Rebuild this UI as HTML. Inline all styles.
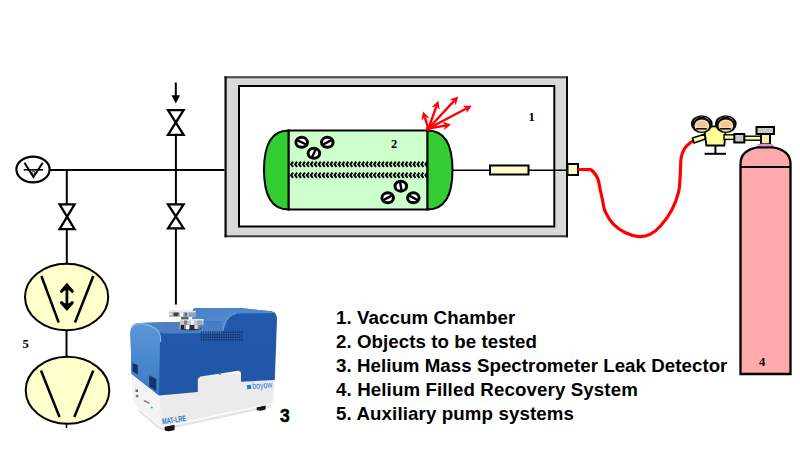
<!DOCTYPE html>
<html><head><meta charset="utf-8">
<style>
html,body{margin:0;padding:0;background:#fff;width:800px;height:462px;overflow:hidden}
svg{display:block}
.lbl{font-family:"Liberation Sans",sans-serif;font-weight:bold;font-size:18.7px;fill:#000}
.num{font-family:"Liberation Serif",serif;font-weight:bold;font-size:12.5px;fill:#000}
</style></head><body>
<svg width="800" height="462" viewBox="0 0 800 462">
<defs>
  <marker id="ah" markerWidth="6" markerHeight="6" refX="5" refY="3" orient="auto" markerUnits="userSpaceOnUse">
    <path d="M0,0 L6,3 L0,6 Z" fill="#f00"/>
  </marker>
</defs>
<!-- main horizontal line -->
<line x1="50" y1="170" x2="225" y2="170" stroke="#000" stroke-width="2"/>
<!-- gauge -->
<ellipse cx="33" cy="169.5" rx="16.6" ry="12.8" fill="#fff" stroke="#000" stroke-width="2.2"/>
<path d="M24.5,162.8 L33.4,177 L42.7,162.8" fill="none" stroke="#000" stroke-width="2"/>
<line x1="23.8" y1="169.8" x2="42.9" y2="169.8" stroke="#000" stroke-width="1.6"/>
<circle cx="33.4" cy="172.6" r="1.5" fill="#fff" stroke="#000" stroke-width="0.9"/>

<!-- left branch -->
<line x1="66.8" y1="170" x2="66.8" y2="264" stroke="#000" stroke-width="2"/>
<path d="M59.6,204.4 L74.6,204.4 L59.6,229.2 L74.6,229.2 Z" fill="#fff" stroke="#000" stroke-width="2.3" stroke-linejoin="miter"/>
<!-- pump 1 -->
<ellipse cx="66.6" cy="297" rx="41.6" ry="33.3" fill="#ffffcc" stroke="#000" stroke-width="2"/>
<line x1="41.4" y1="276" x2="58.7" y2="322.5" stroke="#000" stroke-width="2.5"/>
<line x1="93.3" y1="276" x2="75" y2="322.5" stroke="#000" stroke-width="2.5"/>
<line x1="66.9" y1="286" x2="66.9" y2="308" stroke="#000" stroke-width="2.8"/>
<path d="M61.6,291.2 L66.9,285.2 L72.2,291.2 M61.6,302.6 L66.9,308.6 L72.2,302.6" fill="none" stroke="#000" stroke-width="3.2" stroke-linecap="round" stroke-linejoin="miter"/>
<path d="M61.6,291.2 L66.9,285.2 L72.2,291.2 L66.9,290 Z M61.6,302.6 L66.9,308.6 L72.2,302.6 L66.9,303.8 Z" fill="#000"/>
<line x1="66.5" y1="330" x2="66.5" y2="357" stroke="#000" stroke-width="2"/>
<!-- pump 2 -->
<ellipse cx="67.5" cy="390.3" rx="41.8" ry="33.5" fill="#ffffcc" stroke="#000" stroke-width="2"/>
<line x1="41" y1="370.5" x2="59.5" y2="417" stroke="#000" stroke-width="2.5"/>
<line x1="93.3" y1="370.5" x2="74.3" y2="417" stroke="#000" stroke-width="2.5"/>
<line x1="66.5" y1="423" x2="66.5" y2="428" stroke="#000" stroke-width="1.5"/>
<text class="num" x="22.5" y="347.5">5</text>

<!-- middle branch -->
<line x1="175.9" y1="136" x2="175.9" y2="304.6" stroke="#000" stroke-width="2"/>
<path d="M168,110.1 L183.6,110.1 L168,134.9 L183.6,134.9 Z" fill="#fff" stroke="#000" stroke-width="2.3"/>
<path d="M168,204.4 L183.6,204.4 L168,228.3 L183.6,228.3 Z" fill="#fff" stroke="#000" stroke-width="2.3"/>
<line x1="175.8" y1="82.5" x2="175.8" y2="97" stroke="#000" stroke-width="2"/>
<path d="M171.5,95.3 L180.1,95.3 L175.8,103.6 Z" fill="#000"/>

<!-- chamber -->
<rect x="224.5" y="76.5" width="343.5" height="160.7" fill="#d9d9d9"/>
<line x1="224.5" y1="77.2" x2="568" y2="77.2" stroke="#454545" stroke-width="2"/>
<line x1="224.5" y1="236.2" x2="568" y2="236.2" stroke="#3a3a3a" stroke-width="2"/>
<line x1="225.6" y1="76.5" x2="225.6" y2="237.2" stroke="#0a0a0a" stroke-width="2.2"/>
<line x1="567" y1="76.5" x2="567" y2="237.2" stroke="#0a0a0a" stroke-width="2"/>
<rect x="239" y="86" width="315.3" height="140.5" fill="#fff" stroke="#000" stroke-width="2"/>
<text class="num" x="528.5" y="121">1</text>

<!-- tank -->
<rect x="288.5" y="130.5" width="139" height="79" fill="#ccffcc" stroke="#000" stroke-width="2"/>
<path d="M288.5,130.5 C272.6,130.5 264,144 264,170 C264,196 272.6,209.5 288.5,209.5 Z" fill="#33cc33" stroke="#000" stroke-width="2"/>
<path d="M427.5,130.5 C443.8,130.5 452.5,144 452.5,170 C452.5,196 443.8,209.5 427.5,209.5 Z" fill="#33cc33" stroke="#000" stroke-width="2"/>
<text class="num" x="391" y="148">2</text>
<path d="M293.1,161.7 L291.1,164.3 L293.1,166.9 M297.1,161.7 L295.1,164.3 L297.1,166.9 M301.0,161.7 L299.0,164.3 L301.0,166.9 M304.9,161.7 L302.9,164.3 L304.9,166.9 M308.9,161.7 L306.9,164.3 L308.9,166.9 M312.8,161.7 L310.8,164.3 L312.8,166.9 M316.8,161.7 L314.8,164.3 L316.8,166.9 M320.7,161.7 L318.7,164.3 L320.7,166.9 M324.7,161.7 L322.7,164.3 L324.7,166.9 M328.6,161.7 L326.6,164.3 L328.6,166.9 M332.6,161.7 L330.6,164.3 L332.6,166.9 M336.5,161.7 L334.5,164.3 L336.5,166.9 M340.5,161.7 L338.5,164.3 L340.5,166.9 M344.4,161.7 L342.4,164.3 L344.4,166.9 M348.4,161.7 L346.4,164.3 L348.4,166.9 M352.3,161.7 L350.3,164.3 L352.3,166.9 M356.3,161.7 L354.3,164.3 L356.3,166.9 M360.2,161.7 L358.2,164.3 L360.2,166.9 M364.2,161.7 L362.2,164.3 L364.2,166.9 M368.1,161.7 L366.1,164.3 L368.1,166.9 M372.1,161.7 L370.1,164.3 L372.1,166.9 M376.0,161.7 L374.0,164.3 L376.0,166.9 M380.0,161.7 L378.0,164.3 L380.0,166.9 M383.9,161.7 L381.9,164.3 L383.9,166.9 M387.9,161.7 L385.9,164.3 L387.9,166.9 M391.8,161.7 L389.8,164.3 L391.8,166.9 M395.8,161.7 L393.8,164.3 L395.8,166.9 M399.7,161.7 L397.7,164.3 L399.7,166.9 M403.7,161.7 L401.7,164.3 L403.7,166.9 M407.6,161.7 L405.6,164.3 L407.6,166.9 M411.6,161.7 L409.6,164.3 L411.6,166.9 M415.5,161.7 L413.5,164.3 L415.5,166.9 M419.5,161.7 L417.5,164.3 L419.5,166.9 M423.4,161.7 L421.4,164.3 L423.4,166.9 M427.4,161.7 L425.4,164.3 L427.4,166.9 M293.1,172.6 L291.1,175.2 L293.1,177.8 M297.1,172.6 L295.1,175.2 L297.1,177.8 M301.0,172.6 L299.0,175.2 L301.0,177.8 M304.9,172.6 L302.9,175.2 L304.9,177.8 M308.9,172.6 L306.9,175.2 L308.9,177.8 M312.8,172.6 L310.8,175.2 L312.8,177.8 M316.8,172.6 L314.8,175.2 L316.8,177.8 M320.7,172.6 L318.7,175.2 L320.7,177.8 M324.7,172.6 L322.7,175.2 L324.7,177.8 M328.6,172.6 L326.6,175.2 L328.6,177.8 M332.6,172.6 L330.6,175.2 L332.6,177.8 M336.5,172.6 L334.5,175.2 L336.5,177.8 M340.5,172.6 L338.5,175.2 L340.5,177.8 M344.4,172.6 L342.4,175.2 L344.4,177.8 M348.4,172.6 L346.4,175.2 L348.4,177.8 M352.3,172.6 L350.3,175.2 L352.3,177.8 M356.3,172.6 L354.3,175.2 L356.3,177.8 M360.2,172.6 L358.2,175.2 L360.2,177.8 M364.2,172.6 L362.2,175.2 L364.2,177.8 M368.1,172.6 L366.1,175.2 L368.1,177.8 M372.1,172.6 L370.1,175.2 L372.1,177.8 M376.0,172.6 L374.0,175.2 L376.0,177.8 M380.0,172.6 L378.0,175.2 L380.0,177.8 M383.9,172.6 L381.9,175.2 L383.9,177.8 M387.9,172.6 L385.9,175.2 L387.9,177.8 M391.8,172.6 L389.8,175.2 L391.8,177.8 M395.8,172.6 L393.8,175.2 L395.8,177.8 M399.7,172.6 L397.7,175.2 L399.7,177.8 M403.7,172.6 L401.7,175.2 L403.7,177.8 M407.6,172.6 L405.6,175.2 L407.6,177.8 M411.6,172.6 L409.6,175.2 L411.6,177.8 M415.5,172.6 L413.5,175.2 L415.5,177.8 M419.5,172.6 L417.5,175.2 L419.5,177.8 M423.4,172.6 L421.4,175.2 L423.4,177.8 M427.4,172.6 L425.4,175.2 L427.4,177.8" fill="none" stroke="#000" stroke-width="2.0" stroke-linejoin="miter"/>
<ellipse cx="301.7" cy="142.3" rx="5.8" ry="5" fill="#fff" stroke="#000" stroke-width="3"/><line x1="297.0" y1="140.1" x2="306.4" y2="144.5" stroke="#000" stroke-width="2.4"/><ellipse cx="327.3" cy="142.3" rx="5.8" ry="5" fill="#fff" stroke="#000" stroke-width="3"/><line x1="322.7" y1="144.7" x2="331.9" y2="139.9" stroke="#000" stroke-width="2.4"/><ellipse cx="313.9" cy="153.3" rx="5.8" ry="5" fill="#fff" stroke="#000" stroke-width="3"/><line x1="311.7" y1="158.0" x2="316.1" y2="148.6" stroke="#000" stroke-width="2.4"/><ellipse cx="400.8" cy="186.2" rx="5.8" ry="5" fill="#fff" stroke="#000" stroke-width="3"/><line x1="399.9" y1="181.1" x2="401.7" y2="191.3" stroke="#000" stroke-width="2.4"/><ellipse cx="387.7" cy="197.8" rx="5.8" ry="5" fill="#fff" stroke="#000" stroke-width="3"/><line x1="383.1" y1="200.2" x2="392.3" y2="195.4" stroke="#000" stroke-width="2.4"/><ellipse cx="413.3" cy="197.8" rx="5.8" ry="5" fill="#fff" stroke="#000" stroke-width="3"/><line x1="408.7" y1="195.4" x2="417.9" y2="200.2" stroke="#000" stroke-width="2.4"/>

<!-- red arrows -->
<line x1="428.4" y1="128.5" x2="424.8" y2="117.3" stroke="#f00" stroke-width="2.4"/><path d="M423.0,111.6 L429.4,117.9 L424.8,117.3 L421.4,120.5 Z" fill="#f00"/><line x1="428.4" y1="128.5" x2="436.4" y2="106.4" stroke="#f00" stroke-width="2.4"/><path d="M438.4,100.8 L439.6,109.8 L436.4,106.4 L431.7,106.9 Z" fill="#f00"/><line x1="428.4" y1="128.5" x2="454.1" y2="100.9" stroke="#f00" stroke-width="2.4"/><path d="M458.2,96.5 L455.8,105.2 L454.1,100.9 L449.7,99.5 Z" fill="#f00"/><line x1="428.4" y1="128.5" x2="466.4" y2="108.5" stroke="#f00" stroke-width="2.4"/><path d="M471.7,105.7 L466.6,113.1 L466.4,108.5 L462.7,105.7 Z" fill="#f00"/><line x1="428.4" y1="128.5" x2="445.2" y2="125.6" stroke="#f00" stroke-width="2.4"/><path d="M451.1,124.6 L443.9,130.1 L445.2,125.6 L442.5,121.8 Z" fill="#f00"/><circle cx="428.4" cy="128.5" r="2.5" fill="#f00"/>
<!-- rod & connector -->
<line x1="452" y1="170.2" x2="568" y2="170.2" stroke="#000" stroke-width="1.6"/>
<rect x="490" y="165.5" width="38.5" height="9" fill="#ffffcc" stroke="#000" stroke-width="2"/>
<rect x="567.5" y="164" width="10.5" height="11" fill="#ffffcc" stroke="#000" stroke-width="2"/>

<!-- red tube -->
<path d="M578.0,169.5 L590.8,169.6 C593.0,171.0 595.9,174.6 597.5,178.0 C599.1,181.4 599.5,186.3 600.3,190.0 C601.1,193.7 601.7,196.4 602.5,200.0 C603.3,203.6 603.3,207.6 605.2,211.7 C607.1,215.8 610.4,221.2 613.8,224.7 C617.2,228.2 621.3,230.7 625.5,232.7 C629.7,234.7 634.7,236.3 638.8,236.6 C642.9,236.9 646.4,236.2 650.0,234.4 C653.6,232.6 656.9,230.1 660.5,226.0 C664.1,221.9 668.8,215.7 671.8,210.0 C674.8,204.3 677.2,197.6 678.6,191.8 C680.0,186.0 679.8,180.7 680.2,175.0 C680.6,169.3 680.5,162.0 681.2,157.7 C681.9,153.4 683.0,151.3 684.3,149.0 C685.6,146.7 687.4,145.2 688.9,143.8 C690.4,142.4 692.6,141.1 693.4,140.6" fill="none" stroke="#f00" stroke-width="3.2" stroke-linejoin="round"/>

<!-- regulator -->
<path d="M692.5,138 L705,134 L705.5,139 L694,143 Z" fill="#ffff99" stroke="#000" stroke-width="1.7" stroke-linejoin="round"/>
<path d="M704,126.4 L726,126.4 L724.3,145.5 L706.4,145.5 Z" fill="#ffff99" stroke="#000" stroke-width="1.8"/>
<line x1="715.4" y1="145.5" x2="715.4" y2="153.8" stroke="#000" stroke-width="2"/>
<line x1="704.6" y1="153.8" x2="726" y2="153.8" stroke="#000" stroke-width="2"/>
<rect x="724" y="134.8" width="12" height="4.6" fill="#ffff99" stroke="#000" stroke-width="1.4"/>
<rect x="743" y="136.2" width="19" height="4" fill="#ffff99" stroke="#000" stroke-width="1.4"/>
<rect x="734.3" y="134" width="10" height="8.5" fill="#c8c8c8" stroke="#000" stroke-width="2"/>
<g>
<ellipse cx="701.8" cy="124.1" rx="10.9" ry="8.9" fill="#0a0a0a"/>
<ellipse cx="701.9" cy="125.6" rx="7.4" ry="6.2" fill="#f6deb0"/>
<ellipse cx="701.9" cy="124.2" rx="5" ry="3.2" fill="#f2c496"/>
<path d="M694.3,121 Q695.8,118 698.3,117.3 M705.3,117.3 Q707.8,118 709.3,121" fill="none" stroke="#8a6a4a" stroke-width="0.9"/>
<circle cx="701.8" cy="116.3" r="0.8" fill="#8a6a4a"/>
<line x1="696.0999999999999" y1="128.8" x2="706.8" y2="128.8" stroke="#111" stroke-width="1.6"/>
</g>
<g>
<ellipse cx="725.8" cy="124.1" rx="10.9" ry="8.9" fill="#0a0a0a"/>
<ellipse cx="725.9" cy="125.6" rx="7.4" ry="6.2" fill="#f6deb0"/>
<ellipse cx="725.9" cy="124.2" rx="5" ry="3.2" fill="#f2c496"/>
<path d="M718.3,121 Q719.8,118 722.3,117.3 M729.3,117.3 Q731.8,118 733.3,121" fill="none" stroke="#8a6a4a" stroke-width="0.9"/>
<circle cx="725.8" cy="116.3" r="0.8" fill="#8a6a4a"/>
<line x1="720.0999999999999" y1="128.8" x2="730.8" y2="128.8" stroke="#111" stroke-width="1.6"/>
</g>
<!-- cylinder valve -->
<rect x="761" y="133.5" width="9" height="10.5" fill="#f0f0a0" stroke="#000" stroke-width="2"/>
<rect x="756.5" y="127" width="17.5" height="7" fill="#c8c8c8" stroke="#000" stroke-width="2"/>
<path d="M757.5,145.6 Q765,143.6 773,145.6" fill="none" stroke="#d98ad0" stroke-width="2.2"/>
<!-- cylinder -->
<path d="M740.5,374 L740.5,164 C740.5,153 748,149 757.5,147.4 L773,147.4 C782.5,149 790.5,153 790.5,164 L790.5,374 Z" fill="#ffaaaa" stroke="#000" stroke-width="2.3"/>
<line x1="740.5" y1="166.9" x2="790.5" y2="166.9" stroke="#000" stroke-width="2"/>
<text class="num" x="759" y="365.5">4</text>

<!-- machine -->
<defs>
<linearGradient id="gside" x1="0" y1="0" x2="0" y2="1"><stop offset="0" stop-color="#5a98d8"/><stop offset="1" stop-color="#3a78c4"/></linearGradient>
<linearGradient id="gtop" x1="0" y1="0" x2="1" y2="0"><stop offset="0" stop-color="#4f80c4"/><stop offset="1" stop-color="#4a7cc2"/></linearGradient>
<linearGradient id="graise" x1="0" y1="0" x2="1" y2="1"><stop offset="0" stop-color="#4a80c8"/><stop offset="1" stop-color="#5b92d6"/></linearGradient>
<linearGradient id="gfront" x1="0" y1="0" x2="0" y2="1"><stop offset="0" stop-color="#2259ab"/><stop offset="1" stop-color="#1f56a8"/></linearGradient>
</defs>
<g>
<path d="M139,410 L158,427 Q161,429.5 166,428.5 L271,406" fill="none" stroke="#d8d8d8" stroke-width="2.5" opacity="0.7"/>
<path d="M164.3,422 L174.7,421 L174.5,430 Q169.5,432 164.8,430.5 Z" fill="#151515"/>
<path d="M256.2,402 L266,401 L265.5,409.5 Q261,411.5 256.8,410 Z" fill="#151515"/>
<path d="M131.5,368 L133.8,402 Q135,405 139,408.5 L158,424.5 Q161,427 166,426 L270,404 Q272.5,403.5 272.8,401 L274.8,376 Z" fill="#ebebeb"/>
<path d="M131.5,368 L133.8,402 Q135,405 139,408.5 L158,424.5 Q160,426 161,426 L160,392 Z" fill="#f3f3f3"/>
<path d="M139,408.5 L158,424.5 Q161,427 166,426 L270,404" fill="none" stroke="#fafafa" stroke-width="1.2"/>
<path d="M130.5,333 Q130.5,323.2 139,323 L192.5,321.5 L192.5,311 Q193,308 197,308 L240,308 L271,311.2 Q277,312.5 277,319 L274.8,380 L241,381.8 L241,373 Q241,370.6 238.5,370.8 L200.5,376.4 Q197.8,377 197.8,380 L197.8,392 L159,395.5 L131.5,373.8 Z" fill="url(#gfront)"/>
<path d="M130.5,333 Q130.5,323.2 139,323 L150,323.3 Q160,330 160,340 L159,395.5 L131.5,373.8 Z" fill="url(#gside)"/>
<path d="M139,323 L192.5,321.5 L223,321.5 L222,333 L167,333.4 Q160,333.5 156,329.5 Q150,324.5 139,323 Z" fill="url(#gtop)"/>
<path d="M131.5,328 Q134,323.5 141,323.3 Q152,324.5 158,331 Q161,335 160.5,342" fill="none" stroke="#86b8e6" stroke-width="1.3"/>
<path d="M197,308 L240,308 L271,311.2 Q275,312 275.5,313 L236,313.5 Q228,315 224.5,325 L222.5,333 L222,321.5 L192.5,321.5 L192.5,311 Q193,308 197,308 Z" fill="url(#graise)"/>
<path d="M236,313.5 Q228,315 224.5,325 L222.8,331" fill="none" stroke="#76a6dc" stroke-width="1"/>
<path d="M200.8,331.6h1.3v1.3h-1.3zM203.1,331.6h1.3v1.3h-1.3zM205.3,331.6h1.3v1.3h-1.3zM207.6,331.6h1.3v1.3h-1.3zM209.8,331.6h1.3v1.3h-1.3zM212.1,331.6h1.3v1.3h-1.3zM214.3,331.6h1.3v1.3h-1.3zM216.6,331.6h1.3v1.3h-1.3zM218.8,331.6h1.3v1.3h-1.3zM221.1,331.6h1.3v1.3h-1.3zM223.3,331.6h1.3v1.3h-1.3zM225.6,331.6h1.3v1.3h-1.3zM227.8,331.6h1.3v1.3h-1.3zM230.1,331.6h1.3v1.3h-1.3zM232.3,331.6h1.3v1.3h-1.3zM234.6,331.6h1.3v1.3h-1.3zM236.8,331.6h1.3v1.3h-1.3zM239.1,331.6h1.3v1.3h-1.3zM241.3,331.6h1.3v1.3h-1.3zM200.8,334.1h1.3v1.3h-1.3zM203.1,334.1h1.3v1.3h-1.3zM205.3,334.1h1.3v1.3h-1.3zM207.6,334.1h1.3v1.3h-1.3zM209.8,334.1h1.3v1.3h-1.3zM212.1,334.1h1.3v1.3h-1.3zM214.3,334.1h1.3v1.3h-1.3zM216.6,334.1h1.3v1.3h-1.3zM218.8,334.1h1.3v1.3h-1.3zM221.1,334.1h1.3v1.3h-1.3zM223.3,334.1h1.3v1.3h-1.3zM225.6,334.1h1.3v1.3h-1.3zM227.8,334.1h1.3v1.3h-1.3zM230.1,334.1h1.3v1.3h-1.3zM232.3,334.1h1.3v1.3h-1.3zM234.6,334.1h1.3v1.3h-1.3zM236.8,334.1h1.3v1.3h-1.3zM239.1,334.1h1.3v1.3h-1.3zM241.3,334.1h1.3v1.3h-1.3zM200.8,336.6h1.3v1.3h-1.3zM203.1,336.6h1.3v1.3h-1.3zM205.3,336.6h1.3v1.3h-1.3zM207.6,336.6h1.3v1.3h-1.3zM209.8,336.6h1.3v1.3h-1.3zM212.1,336.6h1.3v1.3h-1.3zM214.3,336.6h1.3v1.3h-1.3zM216.6,336.6h1.3v1.3h-1.3zM218.8,336.6h1.3v1.3h-1.3zM221.1,336.6h1.3v1.3h-1.3zM223.3,336.6h1.3v1.3h-1.3zM225.6,336.6h1.3v1.3h-1.3zM227.8,336.6h1.3v1.3h-1.3zM230.1,336.6h1.3v1.3h-1.3zM232.3,336.6h1.3v1.3h-1.3zM234.6,336.6h1.3v1.3h-1.3zM236.8,336.6h1.3v1.3h-1.3zM239.1,336.6h1.3v1.3h-1.3zM241.3,336.6h1.3v1.3h-1.3zM200.8,339.1h1.3v1.3h-1.3zM203.1,339.1h1.3v1.3h-1.3zM205.3,339.1h1.3v1.3h-1.3zM207.6,339.1h1.3v1.3h-1.3zM209.8,339.1h1.3v1.3h-1.3zM212.1,339.1h1.3v1.3h-1.3zM214.3,339.1h1.3v1.3h-1.3zM216.6,339.1h1.3v1.3h-1.3zM218.8,339.1h1.3v1.3h-1.3zM221.1,339.1h1.3v1.3h-1.3zM223.3,339.1h1.3v1.3h-1.3zM225.6,339.1h1.3v1.3h-1.3zM227.8,339.1h1.3v1.3h-1.3zM230.1,339.1h1.3v1.3h-1.3zM232.3,339.1h1.3v1.3h-1.3zM234.6,339.1h1.3v1.3h-1.3zM236.8,339.1h1.3v1.3h-1.3zM239.1,339.1h1.3v1.3h-1.3zM241.3,339.1h1.3v1.3h-1.3z" fill="#15305e"/>
<path d="M132.5,363 L137.8,365 L137.8,374.5 L132.5,371.5 Z" fill="#17346a"/>
<path d="M149.2,375.2 L156.3,379 L156.3,390.8 L149.2,386.5 Z" fill="#17346a"/>
<rect x="135.5" y="389.5" width="2.5" height="2.5" fill="#666"/>
<rect x="135.8" y="394.8" width="2.5" height="2.5" fill="#777"/>
<path d="M143.8,399.8 L149.5,402.5 L149.5,404 L143.8,401.3 Z" fill="#777"/>
<circle cx="151.8" cy="407.6" r="1" fill="#2c2"/>
<circle cx="198.7" cy="377.3" r="0.9" fill="#666"/>
<circle cx="219.8" cy="374" r="0.9" fill="#666"/>
<circle cx="240.2" cy="371.4" r="0.9" fill="#666"/>
<g transform="rotate(-5 247 389)"><rect x="247.2" y="385" width="4.2" height="4.2" fill="#2a78d8"/><text x="252.5" y="389.6" font-family="Liberation Sans" font-weight="normal" font-size="8.8" fill="#2a78d8" textLength="20" lengthAdjust="spacingAndGlyphs">boyow</text></g>
<text x="162.5" y="424.3" font-family="Liberation Sans" font-weight="bold" font-size="8.2" fill="#2f72d0" transform="rotate(-8 162.5 424)" textLength="24" lengthAdjust="spacingAndGlyphs">MAT-LRE</text>
<!-- flanges -->
<ellipse cx="190" cy="328.3" rx="11" ry="2" fill="#1a2840"/>
<rect x="178.5" y="324.5" width="21" height="4.5" fill="#8c9096"/>
<rect x="181" y="325" width="3" height="4" fill="#222"/>
<rect x="186" y="325" width="3" height="4.5" fill="#f4f4f4"/>
<rect x="190" y="325" width="4" height="4" fill="#333"/>
<rect x="195" y="325" width="2.5" height="4" fill="#ddd"/>
<rect x="180" y="319" width="23.5" height="5.8" fill="#c4c8cc"/>
<rect x="180" y="319" width="23.5" height="1.6" fill="#e8eaee"/>
<rect x="184" y="320.5" width="3" height="4" fill="#777b82"/>
<rect x="191" y="320.5" width="3" height="4" fill="#f6f6f6"/>
<rect x="197" y="320.5" width="5" height="4" fill="#9aa8bc"/>
<rect x="181" y="316.8" width="7.5" height="2.5" fill="#5a5e66"/>
<rect x="169" y="310.8" width="26.6" height="6.3" fill="#b4b8be"/>
<rect x="169" y="310.8" width="26.6" height="1.6" fill="#e4e6ea"/>
<rect x="169" y="313.5" width="3" height="1.5" fill="#e8e8e8"/>
<rect x="173.5" y="312.5" width="5" height="3.5" fill="#3a3e44"/>
<rect x="180" y="312.5" width="3" height="4" fill="#f8f8f8"/>
<rect x="184.5" y="312.5" width="2.5" height="4" fill="#6a6e76"/>
<rect x="189" y="312.5" width="6.5" height="4" fill="#8aa4c8"/>
</g>
<!-- labels -->
<text class="lbl" x="336" y="324.2" textLength="179.2" lengthAdjust="spacing">1. Vaccum Chamber</text>
<text class="lbl" x="336" y="347.8" textLength="200.8" lengthAdjust="spacing">2. Objects to be tested</text>
<text class="lbl" x="336" y="372.1" textLength="391.4" lengthAdjust="spacing">3. Helium Mass Spectrometer Leak Detector</text>
<text class="lbl" x="336" y="395.9" textLength="301.8" lengthAdjust="spacing">4. Helium Filled Recovery System</text>
<text class="lbl" x="336" y="419.5" textLength="238.0" lengthAdjust="spacing">5. Auxiliary pump systems</text>
<text class="lbl" x="280" y="421.8" style="font-size:17.5px;stroke:#000;stroke-width:0.5">3</text>
</svg>
</body></html>
